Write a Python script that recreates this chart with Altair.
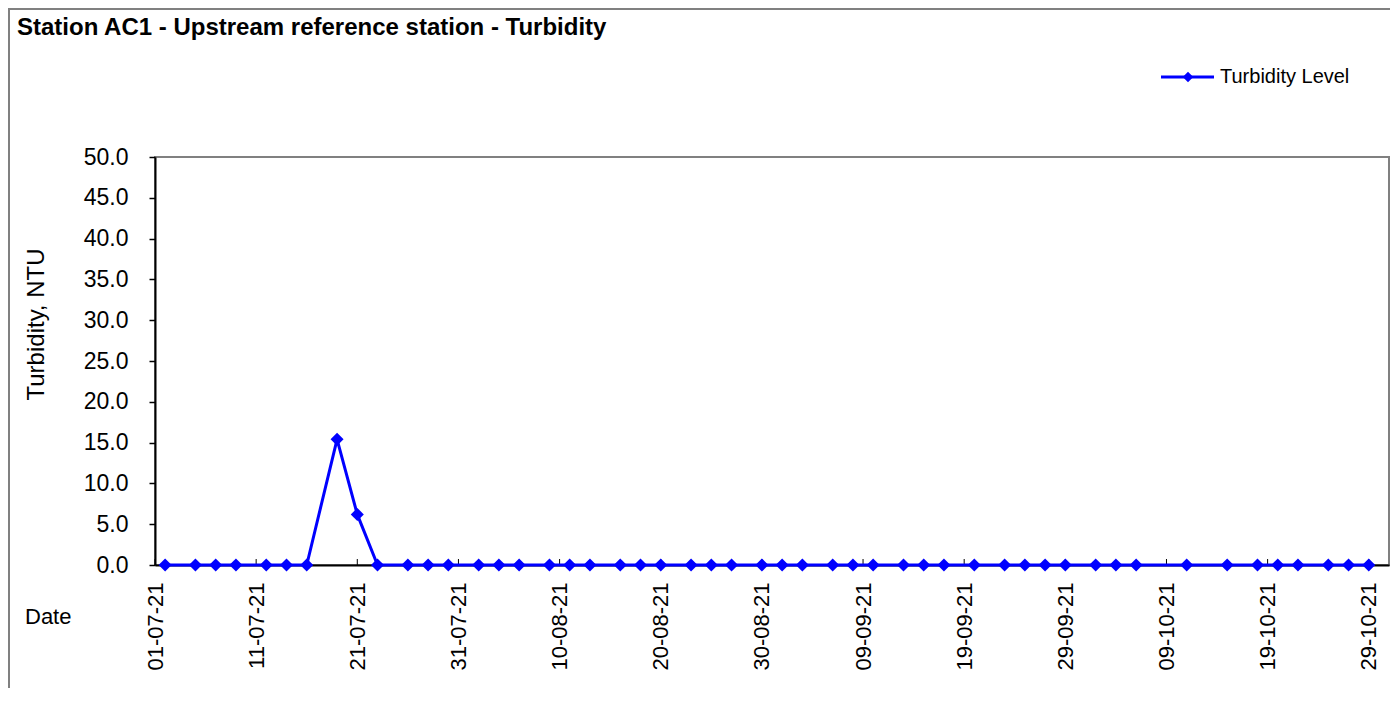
import altair as alt
import pandas as pd

# ---------------- data ----------------
dates = [
    "2021-07-02", "2021-07-05", "2021-07-07", "2021-07-09", "2021-07-12", "2021-07-14",
    "2021-07-16", "2021-07-19", "2021-07-21", "2021-07-23", "2021-07-26", "2021-07-28",
    "2021-07-30", "2021-08-02", "2021-08-04", "2021-08-06", "2021-08-09", "2021-08-11",
    "2021-08-13", "2021-08-16", "2021-08-18", "2021-08-20", "2021-08-23", "2021-08-25",
    "2021-08-27", "2021-08-30", "2021-09-01", "2021-09-03", "2021-09-06", "2021-09-08",
    "2021-09-10", "2021-09-13", "2021-09-15", "2021-09-17", "2021-09-20", "2021-09-23",
    "2021-09-25", "2021-09-27", "2021-09-29", "2021-10-02", "2021-10-04", "2021-10-06",
    "2021-10-11", "2021-10-15", "2021-10-18", "2021-10-20", "2021-10-22", "2021-10-25",
    "2021-10-27", "2021-10-29",
]
turbidity = [
    0.0, 0.0, 0.0, 0.0, 0.0, 0.0,
    0.0, 15.4, 6.2, 0.0, 0.0, 0.0,
    0.0, 0.0, 0.0, 0.0, 0.0, 0.0,
    0.0, 0.0, 0.0, 0.0, 0.0, 0.0,
    0.0, 0.0, 0.0, 0.0, 0.0, 0.0,
    0.0, 0.0, 0.0, 0.0, 0.0, 0.0,
    0.0, 0.0, 0.0, 0.0, 0.0, 0.0,
    0.0, 0.0, 0.0, 0.0, 0.0, 0.0,
    0.0, 0.0,
]
x_tick_dates = [
    (2021, 7, 1), (2021, 7, 11), (2021, 7, 21), (2021, 7, 31), (2021, 8, 10),
    (2021, 8, 20), (2021, 8, 30), (2021, 9, 9), (2021, 9, 19), (2021, 9, 29),
    (2021, 10, 9), (2021, 10, 19), (2021, 10, 29),
]
x_domain = [(2021, 7, 1), (2021, 10, 31)]
y_ticks = [0, 5, 10, 15, 20, 25, 30, 35, 40, 45, 50]
y_domain = [0, 50]

series_name = "Turbidity Level"
chart_title = "Station AC1 - Upstream reference station - Turbidity"
y_title = "Turbidity, NTU"
x_title = "Date"

# ---------------- layout / style ----------------
FONT = "Liberation Sans"
BLUE = "#0000FF"
W, H = 1234, 408
PAD = {"left": 147, "top": 149, "right": 1, "bottom": 123}

df = pd.DataFrame({"date": [d + "T00:00:00" for d in dates], "value": turbidity,
                   "series": series_name})
ticks_df = pd.DataFrame({"date": [f"{y:04d}-{m:02d}-{d:02d}T00:00:00" for (y, m, d) in x_tick_dates]})


def dt(t):
    return alt.DateTime(year=t[0], month=t[1], date=t[2])


x_enc = alt.X(
    "date:T",
    scale=alt.Scale(domain=[dt(t) for t in x_domain], nice=False),
    axis=alt.Axis(
        values=[dt(t) for t in x_tick_dates],
        format="%d-%m-%y",
        labelAngle=270,
        labelFont=FONT,
        labelFontSize=22,
        labelColor="black",
        labelPadding=17,
        labelOverlap=False,
        labelFlush=False,
        labelBound=False,
        ticks=False,
        domainColor="black",
        domainWidth=2,
        grid=False,
        title=None,
    ),
)

y_enc = alt.Y(
    "value:Q",
    scale=alt.Scale(domain=y_domain, nice=False, zero=True),
    axis=alt.Axis(
        values=y_ticks,
        format=".1f",
        labelFont=FONT,
        labelFontSize=23,
        labelColor="black",
        labelPadding=21,
        tickSize=6,
        tickWidth=1.5,
        tickColor="black",
        domainColor="black",
        domainWidth=2,
        grid=False,
        title=y_title,
        titleFont=FONT,
        titleFontSize=24,
        titleFontWeight="normal",
        titleColor="black",
        titleAngle=270,
        titleX=-119,
        titleY=167,
        titleAlign="center",
        titleBaseline="middle",
    ),
)

line = alt.Chart(df).mark_line(color=BLUE, strokeWidth=3).encode(x=x_enc, y=y_enc)
points = alt.Chart(df).mark_point(shape="diamond", filled=True, size=170, color=BLUE,
                                  opacity=1).encode(x=x_enc, y=y_enc)

x_ticks = alt.Chart(ticks_df).mark_rule(color="black", strokeWidth=1).encode(
    x=x_enc, y=alt.value(H), y2=alt.value(H - 6))

title_layer = alt.Chart(pd.DataFrame({"t": [chart_title]})).mark_text(
    align="left", baseline="alphabetic", font=FONT, fontSize=24, fontWeight="bold",
    color="black").encode(x=alt.value(-138), y=alt.value(-122.5), text="t:N")

date_layer = alt.Chart(pd.DataFrame({"t": [x_title]})).mark_text(
    align="left", baseline="middle", font=FONT, fontSize=22, color="black").encode(
    x=alt.value(-130), y=alt.value(460), text="t:N")

legend_df = pd.DataFrame({"t": [series_name]})
legend_line = alt.Chart(legend_df).mark_rule(color=BLUE, strokeWidth=3).encode(
    x=alt.value(1006), x2=alt.value(1059), y=alt.value(-80))
legend_pt = alt.Chart(legend_df).mark_point(shape="diamond", filled=True, size=110,
                                            color=BLUE, opacity=1).encode(
    x=alt.value(1033), y=alt.value(-80))
legend_txt = alt.Chart(legend_df).mark_text(
    align="left", baseline="middle", font=FONT, fontSize=20, color="black").encode(
    x=alt.value(1065), y=alt.value(-80), text="t:N")

frame_df = pd.DataFrame({"k": [1]})
frame_top = alt.Chart(frame_df).mark_rule(color="#808080", strokeWidth=2).encode(
    x=alt.value(-147), x2=alt.value(1240), y=alt.value(-148))
frame_left = alt.Chart(frame_df).mark_rule(color="#808080", strokeWidth=2).encode(
    x=alt.value(-146), y=alt.value(-148), y2=alt.value(531))

chart = alt.layer(
    frame_top, frame_left, x_ticks, line, points,
    title_layer, date_layer, legend_line, legend_pt, legend_txt,
).properties(
    width=W, height=H,
    autosize=alt.AutoSizeParams(type="none"),
    padding=PAD,
    background="white",
).configure_view(
    stroke="#808080", strokeWidth=2,
)

chart.save("out.html", embed_options={"renderer": "svg", "actions": False})
